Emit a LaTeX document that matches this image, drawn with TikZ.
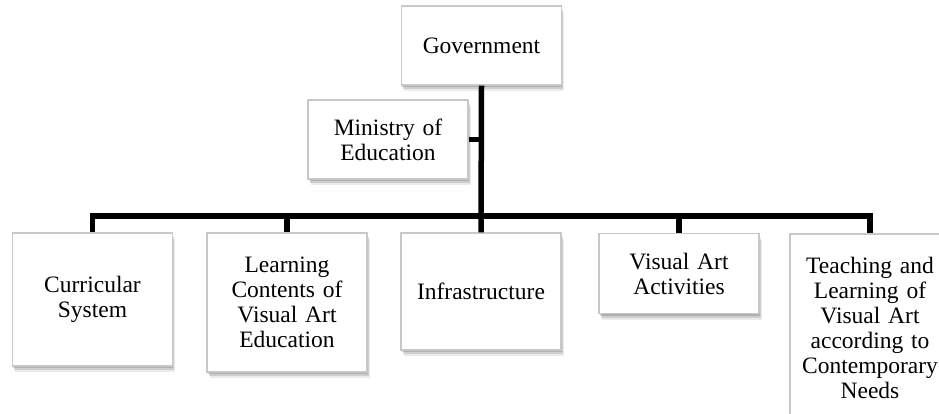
\documentclass[tikz,border=0pt]{standalone}
\usepackage{fontspec}
\setmainfont{Liberation Serif}
\usepackage{tikz}
\usetikzlibrary{shadows}
\definecolor{boxedge}{HTML}{C8C8C8}

\tikzset{
    orgbox/.style={draw=boxedge, line width=1.2pt, fill=white, inner sep=0pt,
        minimum width=160pt, text width=156pt, align=center,
        font=\fontsize{23.5}{25}\selectfont,
        drop shadow={shadow xshift=2.5pt, shadow yshift=-6pt, fill=black, opacity=0.08},
        drop shadow={shadow xshift=1.5pt, shadow yshift=-4pt, fill=black, opacity=0.12},
        drop shadow={shadow xshift=0.5pt, shadow yshift=-2pt, fill=black, opacity=0.15}},
    link/.style={line width=5.5pt, black}
}

\begin{document}
\begin{tikzpicture}[x=1pt, y=-1pt]
    \useasboundingbox (0,0) rectangle (939,414);
    \clip (0,0) rectangle (939,414);

    % Top of the chart
    \node[orgbox, minimum height=79pt] (gov) at (481.5,45.5) {Government};
    \node[orgbox, minimum height=79pt] (moe) at (388,139.5) {Ministry of\\Education};

    % Bottom row
    \node[orgbox, minimum height=133pt] (cur) at (92.5,299.5) {Curricular\\System};
    \node[orgbox, minimum height=139pt] (lce) at (287,302.5) {Learning\\Contents of\\Visual Art\\Education};
    \node[orgbox, minimum height=117pt] (inf) at (481,291.5) {Infrastructure};
    \node[orgbox, minimum height=80pt] (vaa) at (679,273.5) {Visual Art\\Activities};
    \node[orgbox, minimum height=188pt] (tlv) at (870,328) {Teaching and\\Learning of\\Visual Art\\according to\\Contemporary\\Needs};

    % Connectors
    \coordinate (bus) at (481,216);
    \draw[link] (gov.south) -- (inf.north);
    \draw[link] (moe.east) -- (moe.east -| gov.south);
    \draw[link] (cur.north) |- (bus) -| (tlv.north);
    \foreach \n in {lce,vaa} {
        \draw[link] (\n.north) -- (\n.north |- bus);
    }
\end{tikzpicture}
\end{document}
